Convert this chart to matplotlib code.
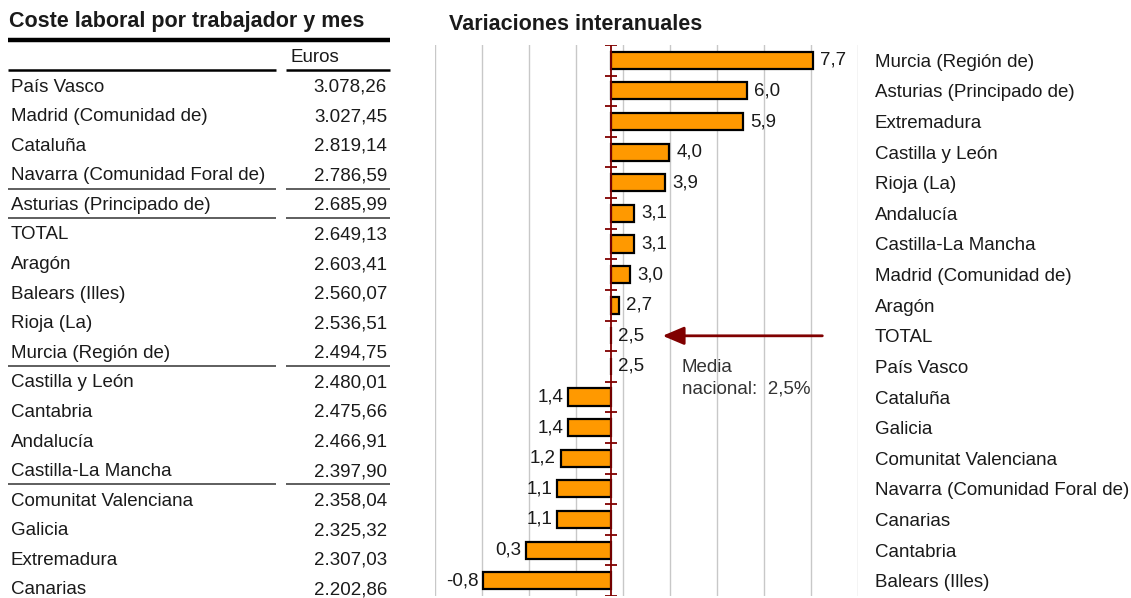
import matplotlib
matplotlib.use("Agg")
import matplotlib.pyplot as plt
import numpy as np

plt.rcParams["font.family"] = ["Liberation Sans", "DejaVu Sans"]

# left table: labour cost per worker and month (euros)
table_names = [
    "País Vasco", "Madrid (Comunidad de)", "Cataluña", "Navarra (Comunidad Foral de)",
    "Asturias (Principado de)", "TOTAL", "Aragón", "Balears (Illes)", "Rioja (La)",
    "Murcia (Región de)", "Castilla y León", "Cantabria", "Andalucía",
    "Castilla-La Mancha", "Comunitat Valenciana", "Galicia", "Extremadura", "Canarias",
]
table_euros = [
    "3.078,26", "3.027,45", "2.819,14", "2.786,59", "2.685,99", "2.649,13",
    "2.603,41", "2.560,07", "2.536,51", "2.494,75", "2.480,01", "2.475,66",
    "2.466,91", "2.397,90", "2.358,04", "2.325,32", "2.307,03", "2.202,86",
]
# rows after which a separator line is drawn
table_breaks = [3, 4, 9, 13]

# right chart: year-on-year change (%)
bar_names = [
    "Murcia (Región de)", "Asturias (Principado de)", "Extremadura", "Castilla y León",
    "Rioja (La)", "Andalucía", "Castilla-La Mancha", "Madrid (Comunidad de)", "Aragón",
    "TOTAL", "País Vasco", "Cataluña", "Galicia", "Comunitat Valenciana",
    "Navarra (Comunidad Foral de)", "Canarias", "Cantabria", "Balears (Illes)",
]
bar_values = [7.7, 6.0, 5.9, 4.0, 3.9, 3.1, 3.1, 3.0, 2.7, 2.5, 2.5,
              1.4, 1.4, 1.2, 1.1, 1.1, 0.3, -0.8]
media = 2.5

W, H = 1131, 598
txt = "#1a1a1a"
red = "#800000"
fs = 13.5
tfs = 15.5

fig = plt.figure(figsize=(W / 100, H / 100), dpi=100)

# ---- table, drawn in pixel coordinates
tab = fig.add_axes([0, 0, 1, 1])
tab.set_xlim(0, W)
tab.set_ylim(H, 0)
tab.axis("off")

tab.text(9, 22, "Coste laboral por trabajador y mes", fontsize=tfs, fontweight="bold",
         color=txt, va="center", ha="left")
tab.plot([8, 390], [40, 40], color="black", lw=3.2, solid_capstyle="butt")
tab.text(291, 57, "Euros", fontsize=fs, color=txt, va="center", ha="left")
tab.plot([8, 276], [70, 70], color="black", lw=1.8, solid_capstyle="butt")
tab.plot([286, 390], [70, 70], color="black", lw=1.8, solid_capstyle="butt")

row0, step = 87, (590 - 87) / (len(table_names) - 1)
for i, (n, v) in enumerate(zip(table_names, table_euros)):
    y = row0 + i * step
    tab.text(11, y, n, fontsize=fs, color=txt, va="center", ha="left")
    tab.text(387, y, v, fontsize=fs, color=txt, va="center", ha="right")
for b in table_breaks:
    y = row0 + (b + 0.5) * step - 2
    tab.plot([8, 276], [y, y], color="#333333", lw=1.1, solid_capstyle="butt")
    tab.plot([286, 390], [y, y], color="#333333", lw=1.1, solid_capstyle="butt")

tab.text(449, 25, "Variaciones interanuales", fontsize=tfs, fontweight="bold",
         color=txt, va="center", ha="left")

# ---- bar chart (bars drawn from the national mean)
ax = fig.add_axes([435 / W, 2 / H, (858 - 435) / W, (596 - 45) / H])
ypos = np.arange(len(bar_names))
vals = np.array(bar_values)
xmin, xmax = -2.04, 8.87
ax.set_xlim(xmin, xmax)
ax.set_ylim(len(bar_names) - 0.5, -0.5)

for gx in np.linspace(xmin, xmax, 10):
    ax.axvline(gx, color="#c8c8c8", lw=1.0, zorder=0)

ax.barh(ypos, vals - media, left=media, height=0.56, color="#ff9900",
        edgecolor="black", linewidth=1.6, zorder=2)

ax.axvline(media, color=red, lw=1.3, zorder=3)
ax.hlines(np.arange(-0.5, len(bar_names)), media - 0.16, media + 0.16,
          color=red, lw=1.3, zorder=3)

for y, v in zip(ypos, vals):
    lab = f"{v:.1f}".replace(".", ",")
    if v >= media:
        ax.text(v + 0.18, y, lab, fontsize=fs, color=txt, va="center", ha="left")
    else:
        ax.text(v - 0.12, y, lab, fontsize=fs, color=txt, va="center", ha="right")

i_tot = bar_names.index("TOTAL")
ax.annotate("", xy=(3.83, i_tot), xytext=(7.95, i_tot),
            arrowprops=dict(arrowstyle="-|>,head_length=1.3,head_width=0.55",
                            color=red, lw=2.0, shrinkA=0, shrinkB=0))
ax.text(4.33, i_tot + 1.4, "Media\nnacional:  2,5%", fontsize=fs, color="#333333",
        va="center", ha="left", linespacing=1.35)

ax.set_yticks(ypos)
ax.set_yticklabels(bar_names, fontsize=fs, color=txt)
ax.yaxis.tick_right()
ax.tick_params(axis="y", length=0, pad=12)
ax.set_xticks([])
for s in ax.spines.values():
    s.set_visible(False)

fig.savefig("out.png", dpi=100)
